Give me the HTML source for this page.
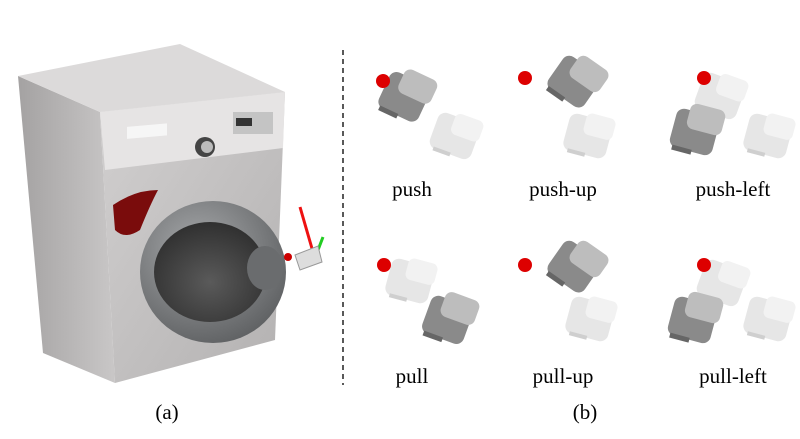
<!DOCTYPE html>
<html><head><style>
body{margin:0;background:#fff;}
svg{display:block;font-family:"Liberation Serif",serif;}
</style></head><body>
<svg width="800" height="439" viewBox="0 0 800 439">
<defs>
<linearGradient id="side" x1="0" y1="0" x2="1" y2="0"><stop offset="0" stop-color="#a4a2a2"/><stop offset="1" stop-color="#c9c7c7"/></linearGradient>
<linearGradient id="front" x1="0" y1="0" x2="1" y2="1"><stop offset="0" stop-color="#d2d0d0"/><stop offset="1" stop-color="#b3b1b1"/></linearGradient>
<radialGradient id="ring" cx="0.4" cy="0.35" r="0.7"><stop offset="0" stop-color="#a8aaac"/><stop offset="1" stop-color="#5e6062"/></radialGradient>
<radialGradient id="glass" cx="0.5" cy="0.6" r="0.6"><stop offset="0" stop-color="#5a5a5a"/><stop offset="1" stop-color="#303030"/></radialGradient>
<g id="dk">
 <rect x="-22" y="-18" width="44" height="40" rx="8" fill="#8a8a8a"/>
 <rect x="-10" y="-26" width="36" height="26" rx="7" fill="#bdbdbd"/>
 <rect x="-18" y="20" width="20" height="5" fill="#666"/>
</g>
<g id="lt">
 <rect x="-22" y="-18" width="44" height="38" rx="8" fill="#e6e6e6"/>
 <rect x="-6" y="-22" width="30" height="22" rx="6" fill="#f2f2f2"/>
 <rect x="-16" y="18" width="18" height="4" fill="#cfcfcf"/>
</g>
</defs>
<polygon points="18,76 100,112 115,383 43,353" fill="url(#side)"/>
<polygon points="18,76 180,44 285,92 100,112" fill="#dcdada"/>
<polygon points="100,112 285,92 275,340 115,383" fill="url(#front)"/>
<polygon points="100,112 285,92 283,148 105,170" fill="#e6e4e4"/>
<rect x="127" y="138" width="40" height="12" fill="#f6f6f6" transform="skewY(-5)"/>
<rect x="233" y="112" width="40" height="22" fill="#c4c4c4"/>
<rect x="236" y="118" width="16" height="8" fill="#333"/>
<circle cx="205" cy="147" r="10" fill="#444"/><circle cx="207" cy="147" r="6" fill="#bbb"/>
<path d="M113,205 Q135,190 158,190 Q150,205 140,230 Q125,240 115,230 Z" fill="#7a0c0c"/>
<ellipse cx="213" cy="272" rx="73" ry="71" fill="url(#ring)"/>
<ellipse cx="210" cy="272" rx="56" ry="50" fill="url(#glass)"/>
<ellipse cx="265" cy="268" rx="18" ry="22" fill="#6a6c6e"/>
<line x1="300" y1="207" x2="313" y2="252" stroke="#e11" stroke-width="3"/>
<line x1="318" y1="250" x2="323" y2="237" stroke="#2c2" stroke-width="3"/>
<path d="M295,255 L318,246 L322,262 L300,270 Z" fill="#ddd" stroke="#999"/>
<circle cx="288" cy="257" r="4" fill="#c00"/>
<line x1="343" y1="50" x2="343" y2="385" stroke="#222" stroke-width="1.5" stroke-dasharray="5,4"/>
<g transform="translate(455,135) rotate(20)"><use href="#lt"/></g>
<g transform="translate(405,95) rotate(25)"><use href="#dk"/></g>
<circle cx="383" cy="81" r="7" fill="#d00"/>
<g transform="translate(588,135) rotate(15)"><use href="#lt"/></g>
<g transform="translate(575,80) rotate(35)"><use href="#dk"/></g>
<circle cx="525" cy="78" r="7" fill="#d00"/>
<g transform="translate(768,135) rotate(15)"><use href="#lt"/></g>
<g transform="translate(720,95) rotate(20)"><use href="#lt"/></g>
<g transform="translate(695,130) rotate(15)"><use href="#dk"/></g>
<circle cx="704" cy="78" r="7" fill="#d00"/>
<g transform="translate(410,280) rotate(15)"><use href="#lt"/></g>
<g transform="translate(448,318) rotate(20)"><use href="#dk"/></g>
<circle cx="384" cy="265" r="7" fill="#d00"/>
<g transform="translate(590,318) rotate(15)"><use href="#lt"/></g>
<g transform="translate(575,265) rotate(35)"><use href="#dk"/></g>
<circle cx="525" cy="265" r="7" fill="#d00"/>
<g transform="translate(768,318) rotate(15)"><use href="#lt"/></g>
<g transform="translate(722,282) rotate(20)"><use href="#lt"/></g>
<g transform="translate(693,318) rotate(15)"><use href="#dk"/></g>
<circle cx="704" cy="265" r="7" fill="#d00"/>
<g font-size="21" fill="#000" text-anchor="middle">
<text x="412" y="196">push</text>
<text x="563" y="196">push-up</text>
<text x="733" y="196">push-left</text>
<text x="412" y="383">pull</text>
<text x="563" y="383">pull-up</text>
<text x="733" y="383">pull-left</text>
<text x="167" y="419">(a)</text>
<text x="585" y="419">(b)</text>
</g>
</svg>
</body></html>
